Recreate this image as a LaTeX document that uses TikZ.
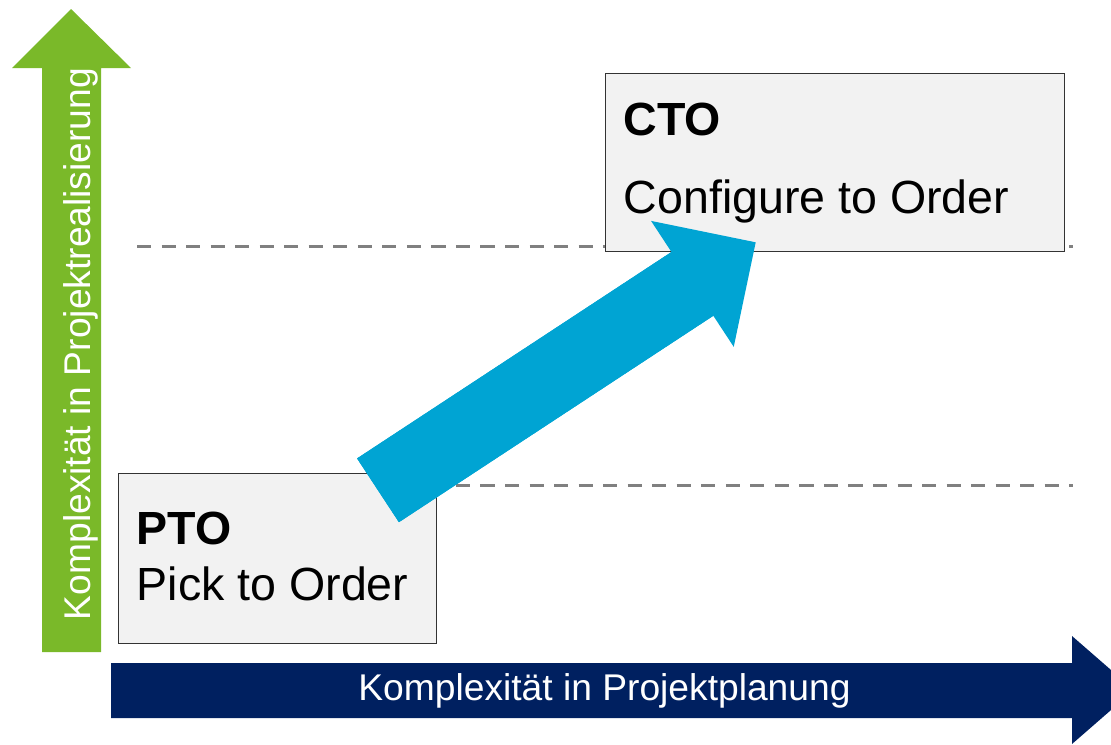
\documentclass[tikz,border=0pt]{standalone}
\usepackage{fontspec}
\setmainfont{Liberation Sans}
\usetikzlibrary{arrows.meta,calc}
\definecolor{axisgreen}{HTML}{7AB929}
\definecolor{axisnavy}{HTML}{002060}
\definecolor{flowcyan}{HTML}{00A4D3}
\definecolor{boxfill}{HTML}{F2F2F2}
\definecolor{guidegray}{HTML}{808080}
\begin{document}
\begin{tikzpicture}[x=0.75pt,y=-0.75pt,
  guide/.style={draw=guidegray, line width=2.25pt, dash pattern=on 10.6pt off 7.8pt},
  levelbox/.style={draw=black!80, line width=1pt, fill=boxfill, rectangle, inner sep=0pt, anchor=north west},
  boxtitle/.style={font=\bfseries\fontsize{34.9}{40}\selectfont, anchor=base west, inner sep=0pt},
  boxtext/.style={font=\fontsize{34.9}{40}\selectfont, anchor=base west, inner sep=0pt},
  axistext/.style={text=white, font=\fontsize{27.9}{32}\selectfont, inner sep=0pt, anchor=base},
  flowshaft/.style={draw=flowcyan, line width=57.2pt, line cap=butt},
  flow/.style={flowshaft, -{Triangle[length=56.8pt, width=113pt, line width=0pt]}}]
\useasboundingbox (0,0) rectangle (1111,744);
\clip (0,0) rectangle (1111,744);

% vertical axis arrow
\fill[axisgreen] (42,652) -- (42,68) -- (12,68) -- (71,9) -- (131,68) -- (101,68) -- (101,652) -- cycle;
\node[axistext, rotate=90] (yaxis) at (90,344) {Komplexität in Projektrealisierung};

% horizontal axis arrow
\fill[axisnavy] (111,663) -- (1072,663) -- (1072,636) -- (1134,690) -- (1072,744) -- (1072,718) -- (111,718) -- cycle;
\node[axistext] (xaxis) at (604.5,700) {Komplexität in Projektplanung};

% level guides
\draw[guide] (137,246) -- (1073,246);
\draw[guide] (137,485) -- (1073,485);

% levels
\node[levelbox, minimum width=238.9pt, minimum height=127.5pt] (pto) at (117.5,472.5) {};
\node[boxtitle] (ptotitle) at (136.5,544) {PTO};
\node[boxtext] (ptotext) at (136.5,600) {Pick to Order};

\node[levelbox, minimum width=344.3pt, minimum height=133.5pt] (cto) at (605,73) {};
\node[boxtitle] (ctotitle) at (623.5,135) {CTO};
\node[boxtext] (ctotext) at (623.5,213) {Configure to Order};

% transition from PTO to CTO (shaft runs on under the head so no seam shows)
\coordinate (flowstart) at (378,490.3);
\coordinate (flowend) at (755.7,242.3);
\draw[flowshaft] (flowstart) -- ($(flowstart)!0.86!(flowend)$);
\draw[flow] (flowstart) -- (flowend);
\end{tikzpicture}
\end{document}
